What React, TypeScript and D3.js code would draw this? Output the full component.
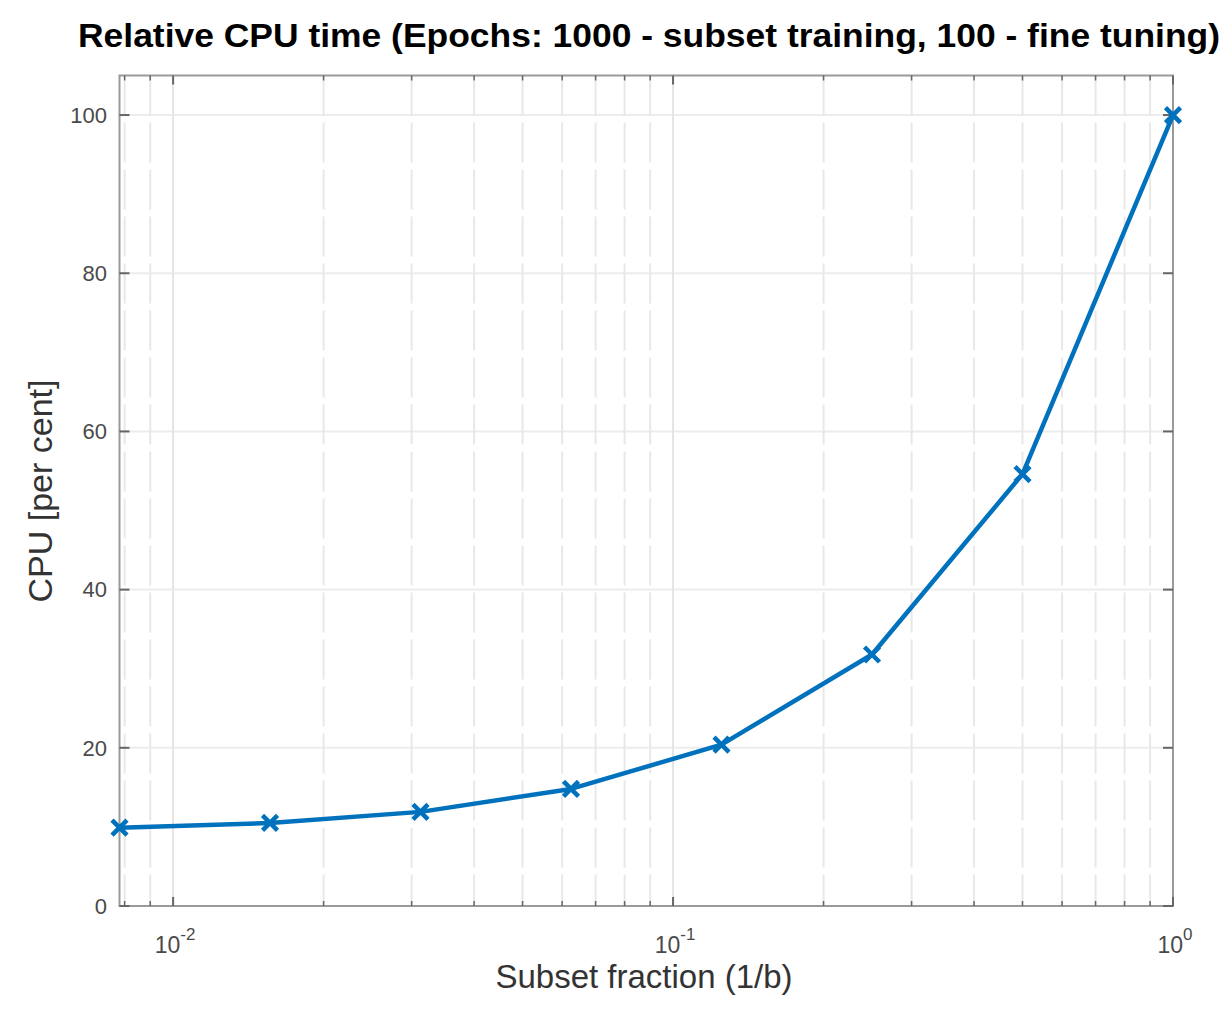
import React from "react";
import * as d3 from "d3";

const fractions = [1 / 128, 1 / 64, 1 / 32, 1 / 16, 1 / 8, 1 / 4, 1 / 2, 1];
const cpuPercent = [9.9, 10.5, 11.9, 14.8, 20.4, 31.8, 54.6, 100];
const yTicks = [0, 20, 40, 60, 80, 100];
const xMajorExps = [-2, -1, 0];
const xMinor = [0.008, 0.009, 0.02, 0.03, 0.04, 0.05, 0.06, 0.07, 0.08, 0.09, 0.2, 0.3, 0.4, 0.5, 0.6, 0.7, 0.8, 0.9];

const titleText = "Relative CPU time (Epochs: 1000 - subset training, 100 - fine tuning)";
const xLabelText = "Subset fraction (1/b)";
const yLabelText = "CPU [per cent]";

const W = 1231;
const H = 1015;
const L = 119.5;
const R = 1173;
const T = 75.5;
const B = 906;
const FONT = "'Liberation Sans', Arial, Helvetica, sans-serif";
const BLUE = "#0072BD";

export default function App() {
  const x = d3.scaleLog().domain([1 / 128, 1]).range([L, R]);
  const y = d3.scaleLinear().domain([0, 105]).range([B, T]);
  const line = d3
    .line<number>()
    .x((_, i) => x(fractions[i]))
    .y((d) => y(d));
  const m = 7.5;

  return (
    <svg
      width={W}
      height={H}
      style={{ position: "absolute", left: 0, top: 0, background: "#fff" }}
      fontFamily={FONT}
    >
      <rect x={0} y={0} width={W} height={H} fill="#fff" />
      {/* horizontal grid */}
      {yTicks.map((t) => (
        <line key={"hg" + t} x1={L} x2={R} y1={y(t)} y2={y(t)} stroke="#ececec" strokeWidth={2} />
      ))}
      {/* minor vertical grid */}
      {xMinor.map((v) => (
        <line
          key={"mg" + v}
          x1={x(v)}
          x2={x(v)}
          y1={T}
          y2={B}
          stroke="#e8e8e8"
          strokeWidth={2}
          strokeDasharray="40,7"
        />
      ))}
      {/* major vertical grid */}
      {xMajorExps.map((e) => (
        <line key={"Mg" + e} x1={x(10 ** e)} x2={x(10 ** e)} y1={T} y2={B} stroke="#e4e4e4" strokeWidth={2} />
      ))}
      {/* axes box */}
      <rect x={L} y={T} width={R - L} height={B - T} fill="none" stroke="#9a9a9a" strokeWidth={2} />
      {/* y ticks */}
      {yTicks.map((t) => (
        <g key={"yt" + t}>
          <line x1={L} x2={L + 10} y1={y(t)} y2={y(t)} stroke="#666" strokeWidth={2} />
          <line x1={R} x2={R - 10} y1={y(t)} y2={y(t)} stroke="#666" strokeWidth={2} />
          <text x={107} y={y(t)} dy="0.35em" textAnchor="end" fontSize={22} fill="#4a4a4a">
            {t}
          </text>
        </g>
      ))}
      {/* x ticks */}
      {xMinor.map((v) => (
        <g key={"xm" + v}>
          <line x1={x(v)} x2={x(v)} y1={B} y2={B - 5} stroke="#666" strokeWidth={1.5} />
          <line x1={x(v)} x2={x(v)} y1={T} y2={T + 5} stroke="#666" strokeWidth={1.5} />
        </g>
      ))}
      {xMajorExps.map((e) => (
        <g key={"xM" + e}>
          <line x1={x(10 ** e)} x2={x(10 ** e)} y1={B} y2={B - 9} stroke="#666" strokeWidth={2} />
          <line x1={x(10 ** e)} x2={x(10 ** e)} y1={T} y2={T + 9} stroke="#666" strokeWidth={2} />
          <text x={x(10 ** e) + 2} y={953} textAnchor="middle" fontSize={23} fill="#4a4a4a">
            <tspan>10</tspan>
            <tspan dy={-13} fontSize={17}>
              {String(e)}
            </tspan>
          </text>
        </g>
      ))}
      {/* data line */}
      <path d={line(cpuPercent) || ""} fill="none" stroke={BLUE} strokeWidth={4.5} strokeLinejoin="round" />
      {cpuPercent.map((v, i) => {
        const cx = x(fractions[i]);
        const cy = y(v);
        return (
          <path
            key={"mk" + i}
            d={`M${cx - m},${cy - m}L${cx + m},${cy + m}M${cx - m},${cy + m}L${cx + m},${cy - m}`}
            stroke={BLUE}
            strokeWidth={4.5}
            fill="none"
          />
        );
      })}
      {/* title */}
      <text
        x={649}
        y={47}
        textAnchor="middle"
        fontSize={34}
        fontWeight="bold"
        fill="#000"
        textLength={1142}
        lengthAdjust="spacingAndGlyphs"
      >
        {titleText}
      </text>
      {/* x label */}
      <text x={644} y={988} textAnchor="middle" fontSize={33} fill="#333">
        {xLabelText}
      </text>
      {/* y label */}
      <text
        transform={`translate(52,491) rotate(-90)`}
        textAnchor="middle"
        fontSize={34}
        fill="#333"
      >
        {yLabelText}
      </text>
    </svg>
  );
}
